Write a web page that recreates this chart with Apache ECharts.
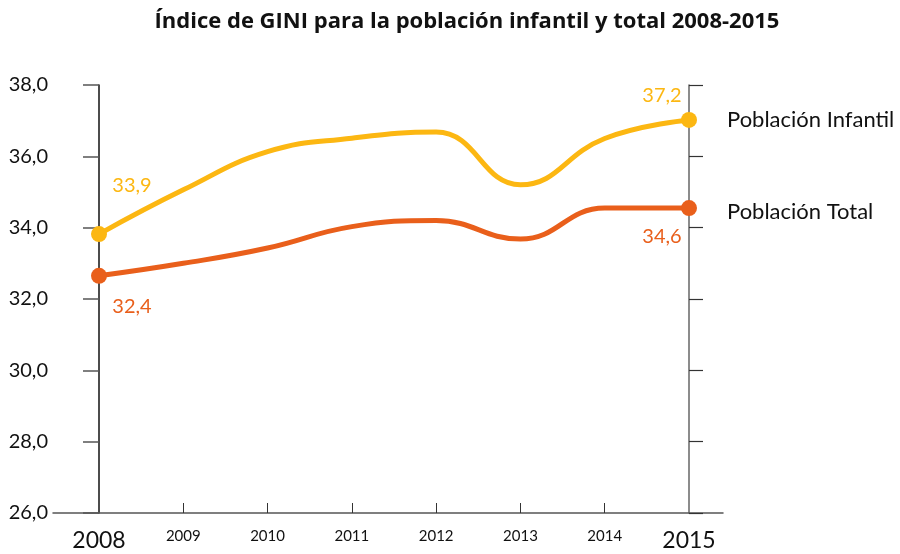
<!DOCTYPE html>
<html>
<head>
<meta charset="utf-8">
<script src="https://cdn.jsdelivr.net/npm/echarts@6/dist/echarts.min.js"></script>
<style>html,body{margin:0;padding:0;background:#fff}#c{width:900px;height:554px}</style>
</head>
<body>
<div id="c"></div>
<script>
var titleText = 'Índice de GINI para la población infantil y total 2008-2015';
var years = [2008, 2009, 2010, 2011, 2012, 2013, 2014, 2015];
var seriesNames = ['Población Infantil', 'Población Total'];
var infantil = [33.82, 35.06, 36.13, 36.51, 36.68, 35.2, 36.5, 37.02];
var total = [32.65, 33.0, 33.43, 34.03, 34.2, 33.68, 34.55, 34.55];
var infantilLabels = ['33,9', '37,2'];
var totalLabels = ['32,4', '34,6'];
var yTicks = [26, 28, 30, 32, 34, 36, 38];

var FONT = 'Lato';
var YELLOW = '#FCB712';
var ORANGE = '#E95F1B';

function fmtComma(v){ return v.toFixed(1).replace('.', ','); }

function buildData(vals, labels, offsets){
  return vals.map(function(v, i){
    var item = { value: [years[i], v] };
    if (i === 0 || i === vals.length - 1) {
      var k = i === 0 ? 0 : 1;
      item.label = { show: true, formatter: labels[k], position: 'inside', offset: offsets[k] };
    }
    return item;
  });
}

var chart = echarts.init(document.getElementById('c'), null, { renderer: 'canvas' });

function mkSeries(name, vals, labels, color, offsets, endOffset){
  return {
    name: name,
    type: 'line',
    smooth: 0.45,
    data: buildData(vals, labels, offsets),
    lineStyle: { color: color, width: 5 },
    itemStyle: { color: color },
    symbol: 'circle',
    showSymbol: true,
    symbolSize: function(v, p){ return (p.dataIndex === 0 || p.dataIndex === years.length - 1) ? 16 : 0; },
    label: { show: false, color: color, fontFamily: FONT, fontSize: 20 },
    endLabel: { show: true, formatter: '{a}', color: '#111', fontFamily: FONT, fontSize: 22, distance: 38, offset: endOffset },
    emphasis: { disabled: true },
    silent: true,
    z: 5
  };
}

chart.setOption({
  animation: false,
  title: {
    text: titleText,
    left: 462,
    textAlign: 'center',
    top: 6,
    textStyle: { fontFamily: 'Open Sans', fontWeight: 'bold', fontSize: 22, color: '#111' }
  },
  grid: { left: 53, right: 177, top: 85, bottom: 41 },
  xAxis: {
    type: 'value',
    min: 2008 - 46 / (590 / 7),
    max: 2015 + 34 / (590 / 7),
    axisLine: { show: true, onZero: false, lineStyle: { color: '#555', width: 1.5 } },
    axisTick: { show: true, inside: true, length: 10, customValues: years.slice(1, -1), lineStyle: { color: '#333', width: 1 } },
    splitLine: { show: false },
    axisLabel: {
      customValues: years,
      margin: 16,
      formatter: function(v){
        return (v === years[0] || v === years[years.length - 1]) ? '{big|' + v + '}' : '{small|' + v + '}';
      },
      rich: {
        big: { fontFamily: FONT, fontSize: 23, color: '#111' },
        small: { fontFamily: FONT, fontSize: 15, color: '#111' }
      }
    }
  },
  yAxis: [
    {
      type: 'value', position: 'left', offset: -46,
      min: 26, max: 38, interval: 2,
      axisLine: { show: true, lineStyle: { color: '#111', width: 1.5 } },
      axisTick: { show: true, length: 16, lineStyle: { color: '#555', width: 1.5 } },
      splitLine: { show: false },
      axisLabel: { margin: 51, formatter: fmtComma, fontFamily: FONT, fontSize: 20, color: '#111' }
    },
    {
      type: 'value', position: 'right', offset: -34,
      min: 26, max: 38, interval: 2,
      axisLine: { show: true, lineStyle: { color: '#666', width: 1.5 } },
      axisTick: { show: true, length: 14, lineStyle: { color: '#333', width: 1.2 } },
      splitLine: { show: false },
      axisLabel: { show: false }
    }
  ],
  series: [
    mkSeries(seriesNames[0], infantil, infantilLabels, YELLOW, [[33, -49], [-27, -24]], [0, 0]),
    mkSeries(seriesNames[1], total, totalLabels, ORANGE, [[33, 31], [-27, 28]], [0, 4])
  ]
});
</script>
</body>
</html>
